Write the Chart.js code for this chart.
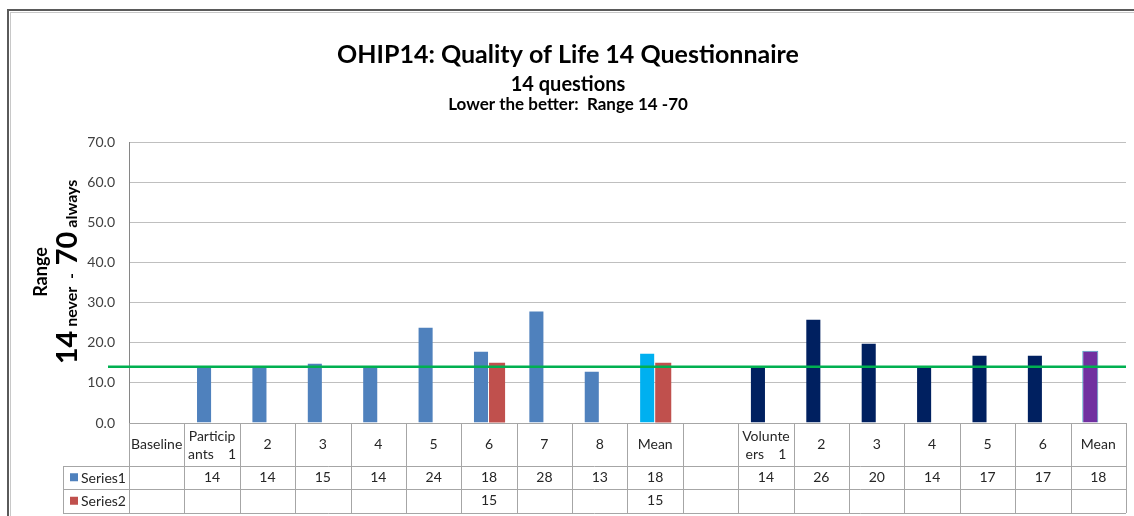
<!DOCTYPE html>
<html>
<head>
<meta charset="utf-8">
<script src="https://cdn.jsdelivr.net/npm/chart.js@4"></script>
<style>
  html, body { margin: 0; padding: 0; background: #fff; }
  #wrap { width: 1134px; height: 516px; }
</style>
</head>
<body>
<div id="wrap"><canvas id="chart" width="1134" height="516"></canvas></div>
<script>
'use strict';

// categories (multi-line labels as in the data table)
const categories = [
  ['Baseline'], ['Particip', 'ants    1'], ['2'], ['3'], ['4'], ['5'], ['6'], ['7'], ['8'], ['Mean'],
  [''], ['Volunte', 'ers    1'], ['2'], ['3'], ['4'], ['5'], ['6'], ['Mean']
];
const series1 = [null, 14, 14, 15, 14, 24, 18, 28, 13, 17.5, null, 14, 26, 20, 14, 17, 17, 18];
const series2 = [null, null, null, null, null, null, 15, null, null, 15, null, null, null, null, null, null, null, null];
const seriesNames = ['Series1', 'Series2'];
const benchmark = 14;
const yMin = 0, yMax = 70, yStep = 10;

const FONT = 'Lato, "Open Sans", sans-serif';
const BLUE = '#4F81BD', CYAN = '#00B0F0', NAVY = '#002060', PURPLE = '#7030A0', RED = '#C0504D';
const s1Colors = [BLUE, BLUE, BLUE, BLUE, BLUE, BLUE, BLUE, BLUE, BLUE, CYAN, NAVY, NAVY, NAVY, NAVY, NAVY, NAVY, NAVY, PURPLE];
const s1Borders = s1Colors.map(c => c === PURPLE ? '#4BACC6' : 'rgba(255,255,255,0)');

// outer frame + titles
const framePlugin = {
  id: 'frame',
  beforeDraw(chart) {
    const ctx = chart.ctx;
    ctx.save();
    ctx.fillStyle = '#fff';
    ctx.fillRect(0, 0, chart.width, chart.height);
    ctx.strokeStyle = '#5a5a5a';
    ctx.lineWidth = 2;
    ctx.strokeRect(8, 10, chart.width + 20, chart.height + 20);
    ctx.strokeStyle = '#c8c8c8';
    ctx.lineWidth = 1;
    ctx.strokeRect(10.5, 12.5, chart.width + 20, chart.height + 20);
    ctx.restore();
  },
  afterDraw(chart) {
    const ctx = chart.ctx;
    const cx = 568;
    ctx.save();
    ctx.fillStyle = '#000';
    ctx.textAlign = 'center';
    ctx.textBaseline = 'alphabetic';
    ctx.font = 'bold 25px ' + FONT;
    ctx.fillText('OHIP14: Quality of Life 14 Questionnaire', cx, 63);
    ctx.font = 'bold 20px ' + FONT;
    ctx.fillText('14 questions', cx, 91);
    ctx.font = 'bold 17px ' + FONT;
    ctx.fillText('Lower the better:  Range 14 -70', cx, 110);

    // rotated y-axis title
    const cy = 272;
    ctx.translate(0, cy);
    ctx.rotate(-Math.PI / 2);
    ctx.font = 'bold 18px ' + FONT;
    ctx.fillText('Range', 0, 47);
    const parts = [
      ['14', 'bold 29px '], [' never  -  ', 'bold 16px '], ['70', 'bold 29px '], [' always', 'bold 16px ']
    ];
    let total = 0;
    parts.forEach(p => { ctx.font = p[1] + FONT; total += ctx.measureText(p[0]).width; });
    let x = -total / 2;
    ctx.textAlign = 'left';
    parts.forEach(p => {
      ctx.font = p[1] + FONT;
      ctx.fillText(p[0], x, 77);
      x += ctx.measureText(p[0]).width;
    });
    ctx.restore();
  }
};

// benchmark line + data table under the axis
const tablePlugin = {
  id: 'table',
  afterDatasetsDraw(chart) {
    const ctx = chart.ctx;
    const xs = chart.scales.x, ys = chart.scales.y;
    const area = chart.chartArea;
    const half = (xs.getPixelForValue(1) - xs.getPixelForValue(0)) / 2;
    const top = area.bottom;
    const r1 = top + 43, r2 = r1 + 22.5, r3 = r2 + 24.5;
    const legendLeft = 63;

    ctx.save();
    // green benchmark
    const by = ys.getPixelForValue(benchmark);
    ctx.strokeStyle = '#00B050';
    ctx.lineWidth = 2.5;
    ctx.beginPath();
    ctx.moveTo(area.left - 21, by);
    ctx.lineTo(area.right, by);
    ctx.stroke();

    // grid lines of the table
    ctx.strokeStyle = '#a6a6a6';
    ctx.lineWidth = 1;
    ctx.beginPath();
    ctx.moveTo(area.left, top + 0.5); ctx.lineTo(area.right, top + 0.5);
    [r1, r2, r3].forEach(y => { ctx.moveTo(legendLeft, Math.round(y) + 0.5); ctx.lineTo(area.right, Math.round(y) + 0.5); });
    ctx.moveTo(legendLeft + 0.5, r1); ctx.lineTo(legendLeft + 0.5, r3);
    for (let i = 0; i <= categories.length; i++) {
      const x = Math.round(xs.getPixelForValue(0) - half + i * 2 * half) + 0.5;
      ctx.moveTo(x, top); ctx.lineTo(x, r3);
    }
    ctx.stroke();

    // text
    ctx.fillStyle = '#262626';
    ctx.font = '14px ' + FONT;
    ctx.textAlign = 'center';
    ctx.textBaseline = 'middle';
    categories.forEach((lab, i) => {
      const x = xs.getPixelForValue(i);
      if (lab.length === 1) {
        ctx.fillText(lab[0], x, (top + r1) / 2);
      } else {
        ctx.fillText(lab[0], x, top + 13);
        ctx.fillText(lab[1], x, top + 31);
      }
      if (series1[i] != null) ctx.fillText(String(Math.round(series1[i])), x, (r1 + r2) / 2);
      if (series2[i] != null) ctx.fillText(String(Math.round(series2[i])), x, (r2 + r3) / 2);
    });

    // legend keys inside the table
    ctx.textAlign = 'left';
    [[BLUE, (r1 + r2) / 2], [RED, (r2 + r3) / 2]].forEach((k, j) => {
      ctx.fillStyle = k[0];
      ctx.fillRect(legendLeft + 7, k[1] - 4, 8, 8);
      ctx.fillStyle = '#262626';
      ctx.fillText(seriesNames[j], legendLeft + 18, k[1] + 1);
    });
    ctx.restore();
  }
};

new Chart(document.getElementById('chart'), {
  type: 'bar',
  data: {
    labels: categories,
    datasets: [
      { label: seriesNames[0], data: series1, backgroundColor: s1Colors, borderColor: s1Borders, borderWidth: 1 },
      { label: seriesNames[1], data: series2, backgroundColor: RED, borderWidth: 0 }
    ]
  },
  options: {
    responsive: false,
    animation: false,
    layout: { padding: { top: 142, bottom: 93, right: 8, left: 0 } },
    datasets: { bar: { barPercentage: 1, categoryPercentage: 0.58 } },
    scales: {
      x: { display: false, offset: true },
      y: {
        min: yMin, max: yMax,
        afterFit: s => { s.width = 129; },
        ticks: {
          stepSize: yStep, padding: 14, color: '#404040',
          font: { family: FONT, size: 14 },
          callback: v => Number(v).toFixed(1)
        },
        grid: { color: '#bfbfbf', drawTicks: false },
        border: { color: '#868686' }
      }
    },
    plugins: { legend: { display: false }, tooltip: { enabled: false }, title: { display: false } }
  },
  plugins: [framePlugin, tablePlugin]
});
</script>
</body>
</html>
